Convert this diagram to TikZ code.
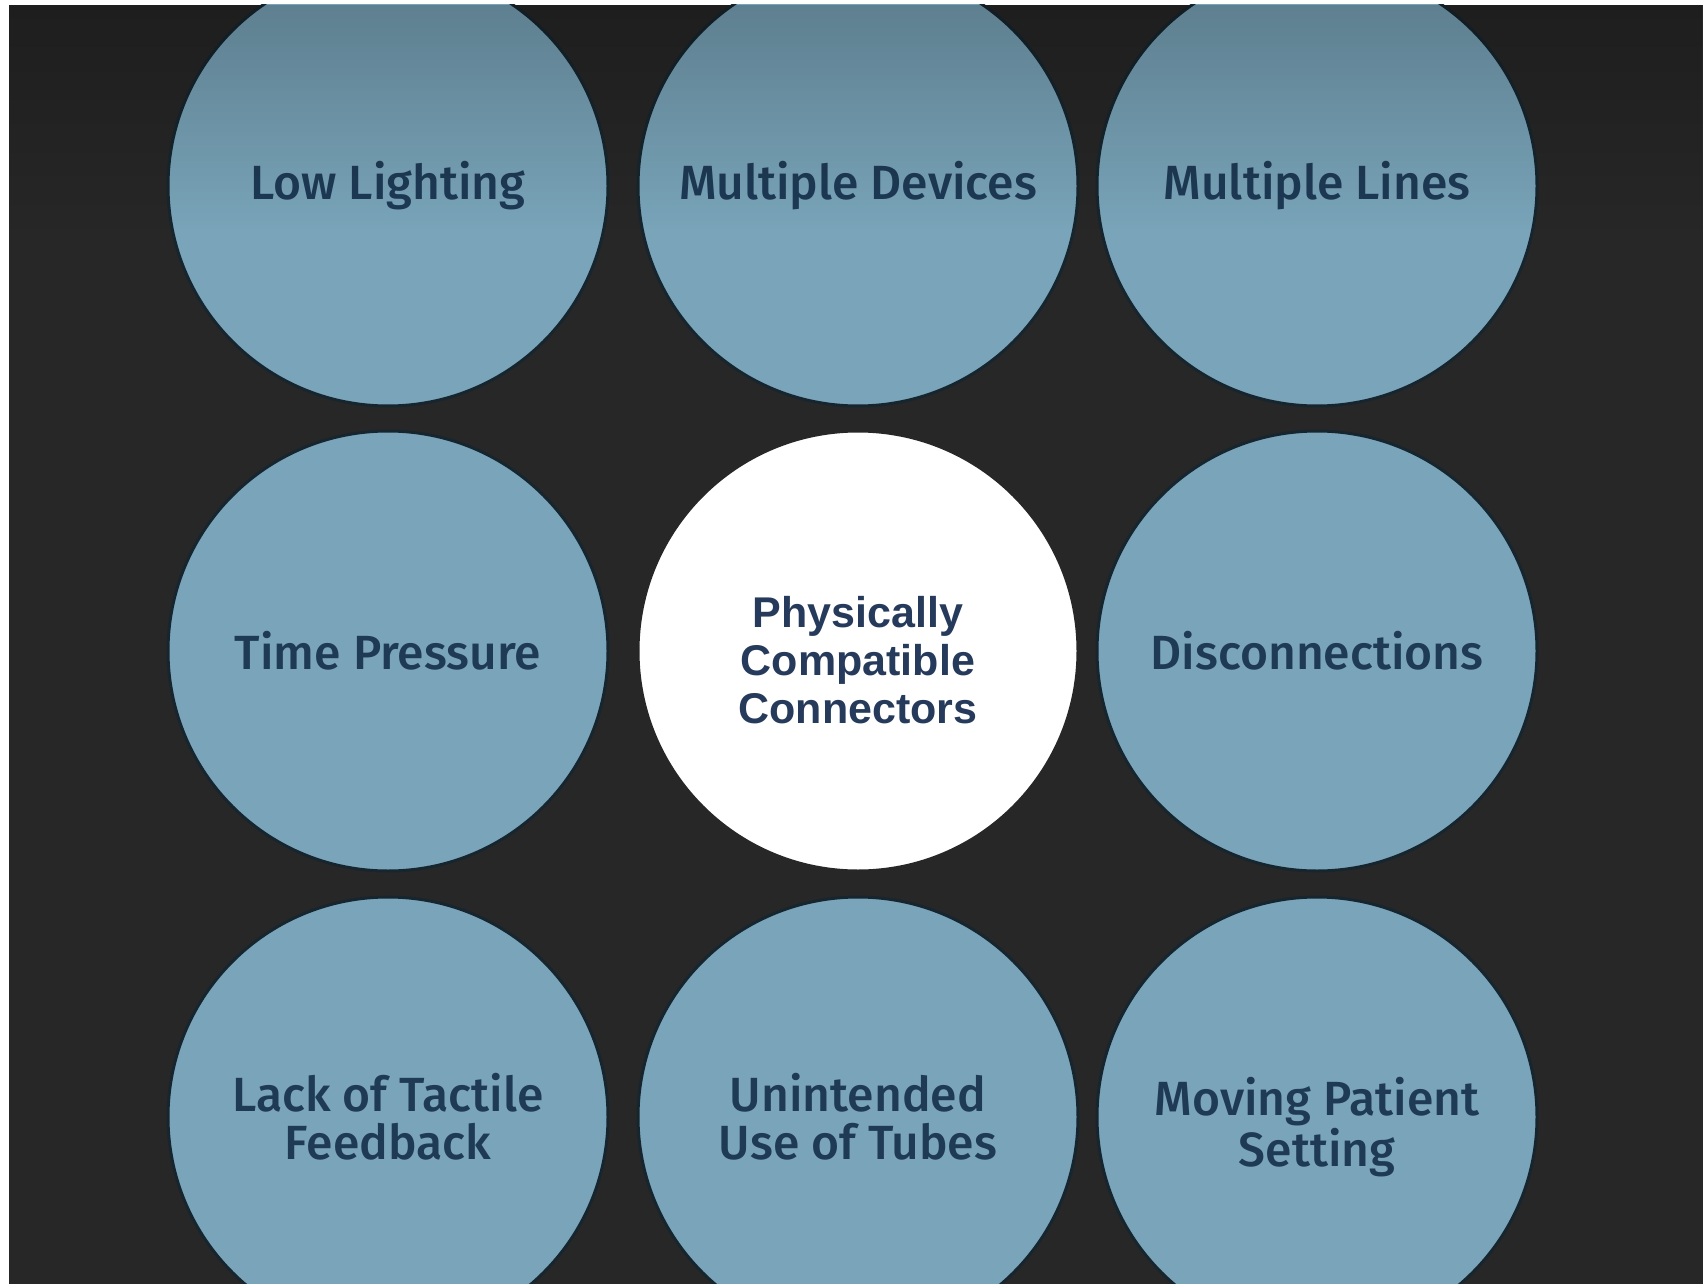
\documentclass[tikz,border=0pt]{standalone}
\usepackage{fontspec}
\newfontfamily\lblfont{Fira Sans Medium}
\newfontfamily\ctrfont{Liberation Sans Bold}
\usetikzlibrary{fadings}
\definecolor{bgdark}{HTML}{272727}
\definecolor{bubblefill}{HTML}{79A4B9}
\definecolor{bubbleedge}{HTML}{17262E}
\definecolor{navytext}{HTML}{1E3A55}
\definecolor{ctrtext}{HTML}{263B5B}
\begin{document}
\begin{tikzpicture}[x=0.5pt,y=-0.5pt,
  bubble/.style={circle, fill=bubblefill, draw=bubbleedge, line width=1.5pt,
    minimum size=220pt, inner sep=0pt},
  hub/.style={bubble, fill=white, draw=bgdark},
  lbl/.style={align=center, inner sep=0pt, text=navytext,
    font=\lblfont\fontsize{24}{24}\selectfont},
  hublbl/.style={lbl, text=ctrtext, font=\ctrfont\fontsize{21.5}{24}\selectfont}]
\useasboundingbox (0,0) rectangle (1703,1284);
\fill[white] (0,0) rectangle (1703,1284);
\begin{scope}
\clip (9,5) rectangle (1703,1284);
\fill[bgdark] (9,5) rectangle (1703,1284);
% the nine discs
\node[bubble] (low)   at (388,186)  {};
\node[bubble] (dev)   at (858,186)  {};
\node[bubble] (lines) at (1317,186) {};
\node[bubble] (time)  at (388,651)  {};
\node[hub]    (phys)  at (858,651)  {};
\node[bubble] (disc)  at (1317,651) {};
\node[bubble] (tact)  at (388,1117) {};
\node[bubble] (tube)  at (858,1117) {};
\node[bubble] (move)  at (1317,1117) {};
% their captions
\node[lbl] (lowT)   at (low)   {Low Lighting};
\node[lbl] (devT)   at (dev)   {Multiple Devices};
\node[lbl] (linesT) at (lines) {Multiple Lines};
\node[lbl] (timeT)  at (time)  {Time Pressure};
\node[hublbl, yshift=-4.5pt] (physT) at (phys) {Physically\\Compatible\\Connectors};
\node[lbl] (discT)  at (disc)  {Disconnections};
\node[lbl] (tactT)  at (tact)  {Lack of Tactile\\Feedback};
\node[lbl] (tubeT)  at (tube)  {Unintended\\Use of Tubes};
\node[lbl, yshift=-5pt] (moveT) at (move) {Moving Patient\\Setting};
% darker band along the top edge
\fill[black, path fading=south, fill opacity=0.22] (9,5) rectangle (1703,230);
\end{scope}
\end{tikzpicture}
\end{document}
